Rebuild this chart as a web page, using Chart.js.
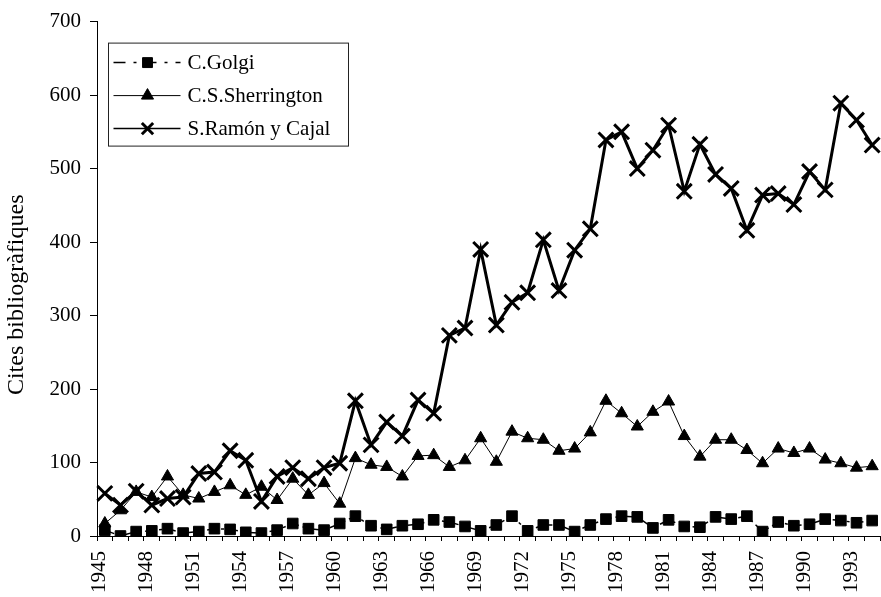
<!DOCTYPE html>
<html>
<head>
<meta charset="utf-8">
<script src="https://cdn.jsdelivr.net/npm/chart.js@4/dist/chart.umd.min.js"></script>
<style>
  html, body { margin: 0; padding: 0; background: #fff; }
  #wrap { width: 881px; height: 597px; }
</style>
</head>
<body>
<div id="wrap"><canvas id="c" width="881" height="597"></canvas></div>
<script>
// Bibliographic citations per year, 1945-1994
const years = [
  '1945','1946','1947','1948','1949','1950','1951','1952','1953','1954',
  '1955','1956','1957','1958','1959','1960','1961','1962','1963','1964',
  '1965','1966','1967','1968','1969','1970','1971','1972','1973','1974',
  '1975','1976','1977','1978','1979','1980','1981','1982','1983','1984',
  '1985','1986','1987','1988','1989','1990','1991','1992','1993','1994'
];

const golgi = [
  8, 0, 6, 7, 10, 4, 6, 10, 9, 5,
  4, 8, 17, 10, 8, 17, 27, 14, 9, 14,
  16, 22, 19, 13, 7, 15, 27, 7, 15, 15,
  6, 15, 23, 27, 26, 11, 22, 13, 12, 26,
  23, 27, 6, 19, 14, 16, 23, 21, 18, 21
];

const sherrington = [
  17, 35, 60, 53, 81, 56, 51, 60, 69, 56,
  67, 49, 78, 56, 72, 44, 106, 97, 94, 81,
  109, 110, 94, 103, 133, 101, 142, 133, 131, 116,
  119, 141, 184, 167, 149, 169, 183, 136, 108, 131,
  131, 117, 99, 119, 113, 119, 104, 99, 93, 95
];

const cajal = [
  58, 42, 61, 42, 51, 53, 85, 87, 116, 103,
  47, 81, 93, 78, 93, 99, 184, 124, 155, 136,
  185, 167, 273, 283, 390, 287, 318, 331, 403, 334,
  389, 418, 539, 550, 500, 525, 559, 469, 533, 492,
  473, 416, 464, 466, 451, 496, 471, 589, 566, 532
];

const seriesNames = ['C.Golgi', 'C.S.Sherrington', 'S.Ramón y Cajal'];
const yAxisTitle = 'Cites bibliogràfiques';

const FONT = "'Liberation Serif', 'Times New Roman', serif";
const INK = '#000';
const RIGHT_GAP = 1; // space between the plot area and the canvas edge

// Draws a legend marker of the given style centred on (x, y)
function drawMarker(ctx, style, x, y, r, lw) {
  ctx.save();
  ctx.fillStyle = INK;
  ctx.strokeStyle = INK;
  ctx.lineWidth = lw;
  ctx.beginPath();
  if (style === 'rect') {
    const s = Math.SQRT1_2 * r;
    ctx.rect(x - s, y - s, 2 * s, 2 * s);
    ctx.fill();
    ctx.stroke();
  } else if (style === 'triangle') {
    ctx.moveTo(x, y - r);
    ctx.lineTo(x + Math.sin(2 * Math.PI / 3) * r, y + r / 2);
    ctx.lineTo(x - Math.sin(2 * Math.PI / 3) * r, y + r / 2);
    ctx.closePath();
    ctx.fill();
    ctx.stroke();
  } else if (style === 'crossRot') {
    const o = Math.SQRT1_2 * r;
    ctx.moveTo(x - o, y - o); ctx.lineTo(x + o, y + o);
    ctx.moveTo(x - o, y + o); ctx.lineTo(x + o, y - o);
    ctx.stroke();
  }
  ctx.restore();
}

// Lets the plot area run to the right edge of the canvas
const fullWidthPlot = {
  id: 'fullWidthPlot',
  afterLayout(chart) {
    const area = chart.chartArea;
    const right = chart.width - RIGHT_GAP;
    area.right = right;
    area.width = right - area.left;
    const x = chart.scales.x;
    x.right = right;
    x.width = right - x.left;
    x.configure();
  }
};

// Boxed legend placed inside the upper-left corner of the plot area
const boxedLegend = {
  id: 'boxedLegend',
  afterDraw(chart) {
    const { ctx, chartArea } = chart;
    const left = chartArea.left + 11.5;
    const top = chartArea.top + 21.5;
    const w = 240, h = 103, rowH = 33;
    ctx.save();
    ctx.fillStyle = '#fff';
    ctx.fillRect(left, top, w, h);
    ctx.strokeStyle = '#222';
    ctx.lineWidth = 1;
    ctx.strokeRect(left, top, w, h);
    chart.data.datasets.forEach((ds, i) => {
      const y = top + 19.5 + i * rowH;
      const x0 = left + 5, x1 = left + 72, xm = left + 39;
      ctx.save();
      ctx.strokeStyle = INK;
      ctx.lineWidth = ds.legendLineWidth;
      ctx.setLineDash(ds.legendDash || []);
      ctx.beginPath();
      ctx.moveTo(x0, y);
      ctx.lineTo(x1, y);
      ctx.stroke();
      ctx.restore();
      drawMarker(ctx, ds.pointStyle, xm, y, ds.legendRadius, ds.legendMarkerWidth);
      ctx.fillStyle = INK;
      ctx.font = '21px ' + FONT;
      ctx.textAlign = 'left';
      ctx.textBaseline = 'middle';
      ctx.fillText(ds.label, left + 79, y + 1);
    });
    ctx.restore();
  }
};

// Vertical title beside the value axis
const valueAxisTitle = {
  id: 'valueAxisTitle',
  afterDraw(chart) {
    const { ctx, chartArea } = chart;
    const cy = (chartArea.top + chartArea.bottom) / 2 + 16;
    ctx.save();
    ctx.translate(17, cy);
    ctx.rotate(-Math.PI / 2);
    ctx.fillStyle = INK;
    ctx.font = '24px ' + FONT;
    ctx.textAlign = 'center';
    ctx.textBaseline = 'middle';
    ctx.fillText(yAxisTitle, 0, 0);
    ctx.restore();
  }
};

const chart = new Chart(document.getElementById('c'), {
  type: 'line',
  data: {
    labels: years,
    datasets: [
      {
        label: seriesNames[0],
        data: golgi,
        borderColor: INK,
        backgroundColor: INK,
        borderWidth: 1.5,
        borderDash: [10, 4, 3, 4],
        pointStyle: 'rect',
        pointRadius: 7.5,
        pointBorderWidth: 1,
        pointBackgroundColor: INK,
        pointBorderColor: INK,
        legendLineWidth: 1.5,
        legendDash: [12, 8, 3, 8],
        legendRadius: 7,
        legendMarkerWidth: 1,
        tension: 0
      },
      {
        label: seriesNames[1],
        data: sherrington,
        borderColor: INK,
        backgroundColor: INK,
        borderWidth: 1,
        pointStyle: 'triangle',
        pointRadius: 7,
        pointBorderWidth: 1,
        pointBackgroundColor: INK,
        pointBorderColor: INK,
        legendLineWidth: 1,
        legendRadius: 7,
        legendMarkerWidth: 1,
        tension: 0
      },
      {
        label: seriesNames[2],
        data: cajal,
        borderColor: INK,
        backgroundColor: INK,
        borderWidth: 3,
        pointStyle: 'crossRot',
        pointRadius: 10.5,
        pointBorderWidth: 3,
        pointBackgroundColor: INK,
        pointBorderColor: INK,
        legendLineWidth: 1.5,
        legendRadius: 8,
        legendMarkerWidth: 3,
        tension: 0
      }
    ]
  },
  options: {
    responsive: false,
    animation: false,
    layout: { padding: { top: 21, right: RIGHT_GAP, left: 0, bottom: 0 } },
    plugins: {
      legend: { display: false },
      tooltip: { enabled: false }
    },
    scales: {
      x: {
        type: 'category',
        offset: true,
        grid: {
          display: true,
          drawOnChartArea: false,
          offset: true,
          tickLength: 5,
          color: INK,
          lineWidth: 1
        },
        border: { display: true, color: INK, width: 1 },
        ticks: {
          autoSkip: false,
          minRotation: 90,
          maxRotation: 90,
          padding: 10,
          labelOffset: -5,
          color: INK,
          font: { family: FONT, size: 21 },
          callback: (v, i) => (i % 3 === 0 ? years[i] : '')
        },
        afterFit: (s) => { s.height = 61; }
      },
      y: {
        min: 0,
        max: 700,
        grid: {
          display: true,
          drawOnChartArea: false,
          tickLength: 7,
          color: INK,
          lineWidth: 1
        },
        border: { display: true, color: INK, width: 1 },
        ticks: {
          stepSize: 100,
          padding: 9,
          color: INK,
          font: { family: FONT, size: 21 }
        },
        afterFit: (s) => { s.width = 97; }
      }
    }
  },
  plugins: [fullWidthPlot, boxedLegend, valueAxisTitle]
});
</script>
</body>
</html>
